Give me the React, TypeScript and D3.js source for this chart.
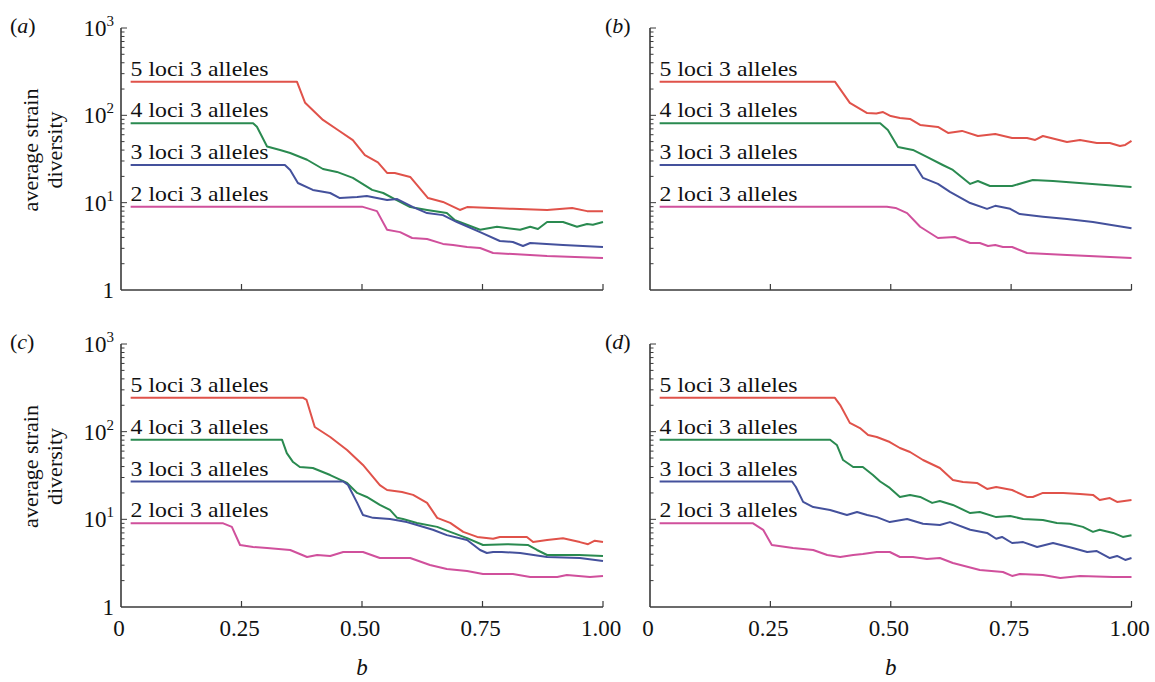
import React, { useEffect, useRef } from 'react'
import * as d3 from 'd3'

const seriesLabels = ['5 loci 3 alleles', '4 loci 3 alleles', '3 loci 3 alleles', '2 loci 3 alleles']
const seriesColors = ['#e0524a', '#2a8a50', '#44519c', '#d0509c']
const panelLetters = ['a', 'b', 'c', 'd']
const xTicks = [0, 0.25, 0.5, 0.75, 1]
const xTickLabels = ['0', '0.25', '0.50', '0.75', '1.00']
const yExponents = [0, 1, 2, 3]

// panel (a): [b, average strain diversity]
const a5 = [[0.02, 243], [0.365, 243], [0.382, 139], [0.419, 88.6], [0.45, 68], [0.481, 52], [0.506, 35], [0.533, 29], [0.552, 21.9], [0.568, 21.9], [0.6, 19.7], [0.637, 11.3], [0.668, 10.2], [0.703, 8.25], [0.718, 8.9], [0.813, 8.5], [0.884, 8.25], [0.936, 8.7], [0.967, 8.0], [1, 8.0]]
const a4 = [[0.02, 81], [0.274, 81], [0.282, 74], [0.303, 44], [0.33, 40], [0.351, 37], [0.386, 31], [0.419, 24.3], [0.448, 22.5], [0.481, 19.2], [0.521, 14], [0.544, 12.9], [0.568, 11], [0.6, 8.9], [0.635, 8.25], [0.676, 7.6], [0.693, 6.3], [0.745, 4.9], [0.78, 5.3], [0.828, 4.9], [0.849, 5.3], [0.865, 5.0], [0.884, 6.0], [0.917, 6.0], [0.946, 5.3], [0.967, 5.7], [0.979, 5.6], [1, 6.0]]
const a3 = [[0.02, 27], [0.34, 27], [0.351, 23.7], [0.367, 16.8], [0.398, 14], [0.434, 12.9], [0.454, 11.3], [0.49, 11.6], [0.51, 11.9], [0.552, 10.7], [0.573, 11], [0.606, 8.9], [0.635, 7.6], [0.668, 7.2], [0.697, 6], [0.745, 4.6], [0.786, 3.64], [0.813, 3.55], [0.834, 3.19], [0.849, 3.45], [0.917, 3.28], [1, 3.11]]
const a2 = [[0.02, 9], [0.5, 9], [0.531, 8], [0.552, 4.9], [0.579, 4.6], [0.604, 3.94], [0.635, 3.84], [0.668, 3.37], [0.689, 3.28], [0.718, 3.11], [0.745, 3.03], [0.772, 2.65], [0.813, 2.58], [0.884, 2.45], [1, 2.33]]

// panel (b)
const b5 = [[0.02, 243], [0.384, 243], [0.415, 139], [0.451, 106], [0.47, 105], [0.484, 109], [0.5, 98], [0.519, 93], [0.54, 91], [0.561, 77.6], [0.598, 73.6], [0.619, 62.8], [0.648, 66.3], [0.681, 58], [0.717, 61.2], [0.752, 55], [0.783, 55], [0.8, 52.3], [0.816, 58], [0.866, 49.6], [0.893, 52.3], [0.928, 48.3], [0.955, 48.3], [0.976, 44.6], [0.987, 45.8], [1, 50.9]]
const b4 = [[0.02, 81], [0.478, 81], [0.494, 68], [0.515, 43.5], [0.546, 40.2], [0.575, 33.4], [0.608, 27], [0.629, 23.7], [0.665, 16.4], [0.681, 17.7], [0.706, 15.5], [0.752, 15.5], [0.795, 18.2], [0.837, 17.7], [1, 15.1]]
const b3 = [[0.02, 27], [0.55, 27], [0.567, 19.2], [0.598, 16.4], [0.623, 13.3], [0.665, 9.9], [0.7, 8.5], [0.717, 9.2], [0.748, 8.5], [0.768, 7.4], [0.816, 6.9], [0.866, 6.5], [0.92, 6], [0.955, 5.6], [1, 5.1]]
const b2 = [[0.02, 9], [0.492, 9], [0.51, 8.7], [0.534, 7.6], [0.561, 5.3], [0.598, 3.94], [0.633, 4.05], [0.665, 3.45], [0.685, 3.45], [0.702, 3.19], [0.717, 3.28], [0.733, 3.11], [0.752, 3.11], [0.783, 2.65], [0.866, 2.52], [1, 2.33]]

// panel (c)
const c5 = [[0.02, 243], [0.378, 243], [0.385, 230], [0.402, 113], [0.434, 86.9], [0.469, 61.8], [0.502, 41.7], [0.537, 24.6], [0.552, 21.6], [0.583, 20.5], [0.606, 19], [0.635, 15.4], [0.656, 10.4], [0.683, 9.1], [0.71, 7.2], [0.739, 6.3], [0.772, 6], [0.786, 6.3], [0.842, 6.3], [0.855, 5.5], [0.884, 5.8], [0.917, 6.1], [0.952, 5.5], [0.969, 5.2], [0.983, 5.7], [1, 5.5]]
const c4 = [[0.02, 81], [0.334, 81], [0.344, 57], [0.357, 45], [0.371, 39.5], [0.398, 38.5], [0.434, 32], [0.469, 26], [0.49, 20], [0.51, 18], [0.537, 14.6], [0.558, 12.8], [0.573, 10.4], [0.585, 10.1], [0.614, 9.1], [0.656, 8.2], [0.683, 7.2], [0.718, 6.1], [0.751, 5.1], [0.801, 5.2], [0.844, 5.1], [0.863, 4.47], [0.884, 3.92], [0.95, 3.92], [1, 3.82]]
const c3 = [[0.02, 27], [0.461, 27], [0.471, 24.6], [0.49, 15.4], [0.502, 11.2], [0.523, 10.4], [0.558, 10.1], [0.593, 9.3], [0.614, 8.6], [0.647, 7.6], [0.676, 6.6], [0.718, 5.8], [0.745, 4.47], [0.759, 4.13], [0.772, 4.24], [0.79, 4.24], [0.828, 4.13], [0.884, 3.72], [0.952, 3.62], [1, 3.35]]
const c2 = [[0.02, 9], [0.212, 9], [0.23, 8.2], [0.247, 5.1], [0.274, 4.83], [0.303, 4.71], [0.351, 4.47], [0.386, 3.72], [0.407, 3.92], [0.434, 3.82], [0.461, 4.24], [0.502, 4.24], [0.537, 3.62], [0.6, 3.62], [0.641, 3.01], [0.676, 2.71], [0.718, 2.57], [0.751, 2.38], [0.813, 2.38], [0.849, 2.2], [0.905, 2.2], [0.925, 2.32], [0.973, 2.2], [1, 2.26]]

// panel (d)
const d5 = [[0.02, 243], [0.384, 243], [0.395, 201], [0.415, 126], [0.436, 110], [0.453, 91.6], [0.471, 86.9], [0.498, 76.2], [0.519, 65.1], [0.54, 58.6], [0.567, 47.5], [0.602, 38.5], [0.629, 28.1], [0.65, 26.7], [0.679, 26], [0.7, 22.2], [0.719, 23.4], [0.752, 21.6], [0.783, 18], [0.795, 18], [0.816, 20], [0.858, 20], [0.893, 19.5], [0.92, 19], [0.934, 16.6], [0.955, 17.5], [0.97, 15.8], [1, 16.6]]
const d4 = [[0.02, 81], [0.374, 81], [0.388, 70.5], [0.401, 47.5], [0.422, 39.5], [0.442, 39.5], [0.463, 32], [0.478, 27], [0.498, 22.8], [0.519, 18], [0.54, 19], [0.561, 18], [0.586, 15.4], [0.602, 16.2], [0.629, 14.6], [0.665, 11.8], [0.685, 12.1], [0.719, 10.6], [0.748, 10.9], [0.775, 10.1], [0.816, 9.8], [0.845, 9.1], [0.872, 8.9], [0.899, 8.2], [0.92, 7.2], [0.934, 7.6], [0.962, 7.0], [0.982, 6.3], [1, 6.6]]
const d3s = [[0.02, 27], [0.295, 27], [0.303, 23.4], [0.318, 15.8], [0.339, 13.8], [0.374, 12.8], [0.409, 11.2], [0.43, 12.1], [0.451, 11.2], [0.471, 10.6], [0.498, 9.3], [0.534, 10.1], [0.567, 8.9], [0.602, 8.6], [0.623, 9.3], [0.665, 7.6], [0.7, 7], [0.719, 6], [0.731, 6.3], [0.752, 5.37], [0.775, 5.5], [0.804, 4.83], [0.837, 5.37], [0.878, 4.71], [0.908, 4.24], [0.928, 4.35], [0.955, 3.62], [0.97, 3.82], [0.987, 3.44], [1, 3.62]]
const d2 = [[0.02, 9], [0.214, 9], [0.235, 7.6], [0.253, 5.1], [0.297, 4.71], [0.339, 4.47], [0.368, 3.92], [0.395, 3.72], [0.422, 3.92], [0.442, 4.03], [0.471, 4.24], [0.498, 4.24], [0.519, 3.72], [0.546, 3.72], [0.575, 3.53], [0.602, 3.62], [0.629, 3.18], [0.685, 2.64], [0.733, 2.51], [0.752, 2.26], [0.768, 2.38], [0.816, 2.32], [0.852, 2.14], [0.893, 2.26], [0.962, 2.2], [1, 2.2]]

const panelSeries = [
  [a5, a4, a3, a2],
  [b5, b4, b3, b2],
  [c5, c4, c3, c2],
  [d5, d4, d3s, d2],
]

const FONT = 'Liberation Serif'

const App = () => {
  const svgRef = useRef(null)

  useEffect(() => {
    const svg = d3.select(svgRef.current)
    svg.selectAll('*').remove()

    // panel frames: left/right columns, top/bottom rows
    const cols = [
      [121, 603],
      [650, 1131.5],
    ]
    const rows = [
      [28, 290],
      [344, 607],
    ]

    panelSeries.forEach((series, i) => {
      const col = i % 2
      const row = Math.floor(i / 2)
      const x = d3.scaleLinear().domain([0, 1]).range(cols[col])
      const y = d3.scaleLog().domain([1, 1000]).range([rows[row][1], rows[row][0]])
      const g = svg.append('g').attr('font-family', FONT)
      const axisColor = '#3a3a3a'

      // axes
      g.append('line')
        .attr('x1', x(0)).attr('x2', x(0))
        .attr('y1', y(1000)).attr('y2', y(1))
        .attr('stroke', axisColor).attr('stroke-width', 1.6)
      g.append('line')
        .attr('x1', x(0)).attr('x2', x(1))
        .attr('y1', y(1)).attr('y2', y(1))
        .attr('stroke', axisColor).attr('stroke-width', 1.6)

      // log ticks, pointing inwards
      const yTickVals = []
      for (let e = 0; e < 3; e++) {
        for (let m = 1; m < 10; m++) yTickVals.push(m * Math.pow(10, e))
      }
      yTickVals.push(1000)
      g.selectAll('.ytick')
        .data(yTickVals.filter((v) => v > 1))
        .join('line')
        .attr('class', 'ytick')
        .attr('x1', x(0))
        .attr('x2', (v) => x(0) + (Math.abs(Math.log10(v) % 1) < 1e-9 ? 6 : 3.5))
        .attr('y1', (v) => y(v))
        .attr('y2', (v) => y(v))
        .attr('stroke', axisColor)
        .attr('stroke-width', 1)

      g.selectAll('.xtick')
        .data(xTicks.slice(1))
        .join('line')
        .attr('class', 'xtick')
        .attr('x1', (d) => x(d))
        .attr('x2', (d) => x(d))
        .attr('y1', y(1))
        .attr('y2', y(1) - 6)
        .attr('stroke', axisColor)
        .attr('stroke-width', 1.2)

      // y tick labels (left column only)
      if (col === 0) {
        yExponents.forEach((e) => {
          const t = g.append('text')
            .attr('x', x(0) - 7)
            .attr('y', y(Math.pow(10, e)) + 8)
            .attr('text-anchor', 'end')
            .attr('font-size', 23)
            .attr('fill', '#111')
          if (e === 0) {
            t.text('1')
          } else {
            t.append('tspan').text('10')
            t.append('tspan').attr('dy', -10).attr('font-size', 15).text(String(e))
          }
        })

        const cy = (rows[row][0] + rows[row][1]) / 2 - 9
        ;[['average strain', 38], ['diversity', 62]].forEach(([label, bx]) => {
          g.append('text')
            .attr('transform', `translate(${bx},${cy}) rotate(-90)`)
            .attr('text-anchor', 'middle')
            .attr('font-size', 22)
            .attr('fill', '#111')
            .text(label)
        })
      }

      // x tick labels + axis title (bottom row only)
      if (row === 1) {
        g.selectAll('.xlab')
          .data(xTicks)
          .join('text')
          .attr('class', 'xlab')
          .attr('x', (d) => x(d) - 2)
          .attr('y', y(1) + 29)
          .attr('text-anchor', 'middle')
          .attr('font-size', 23)
          .attr('fill', '#111')
          .text((d, j) => xTickLabels[j])
        g.append('text')
          .attr('x', x(0.5))
          .attr('y', y(1) + 68)
          .attr('text-anchor', 'middle')
          .attr('font-size', 23)
          .attr('font-style', 'italic')
          .attr('fill', '#111')
          .text('b')
      }

      // panel letter
      const pl = g.append('text')
        .attr('x', col === 0 ? 10 : 605)
        .attr('y', rows[row][0] + 5)
        .attr('font-size', 22)
        .attr('fill', '#111')
      pl.append('tspan').text('(')
      pl.append('tspan').attr('font-style', 'italic').text(panelLetters[i])
      pl.append('tspan').text(')')

      // series lines
      const line = d3.line().x((d) => x(d[0])).y((d) => y(d[1]))
      series.forEach((s, k) => {
        g.append('path')
          .attr('d', line(s))
          .attr('fill', 'none')
          .attr('stroke', seriesColors[k])
          .attr('stroke-width', 2)
          .attr('stroke-linejoin', 'round')
      })

      // series labels sit just above the plateau
      series.forEach((s, k) => {
        g.append('text')
          .attr('x', x(s[0][0]))
          .attr('y', y(s[0][1]) - 6)
          .attr('textLength', 138)
          .attr('lengthAdjust', 'spacingAndGlyphs')
          .attr('font-size', 21)
          .attr('fill', '#111')
          .text(seriesLabels[k])
      })
    })
  }, [])

  return (
    <svg
      ref={svgRef}
      width={1155}
      height={682}
      style={{ position: 'absolute', left: 0, top: 0, background: '#fff' }}
    />
  )
}

export default App
